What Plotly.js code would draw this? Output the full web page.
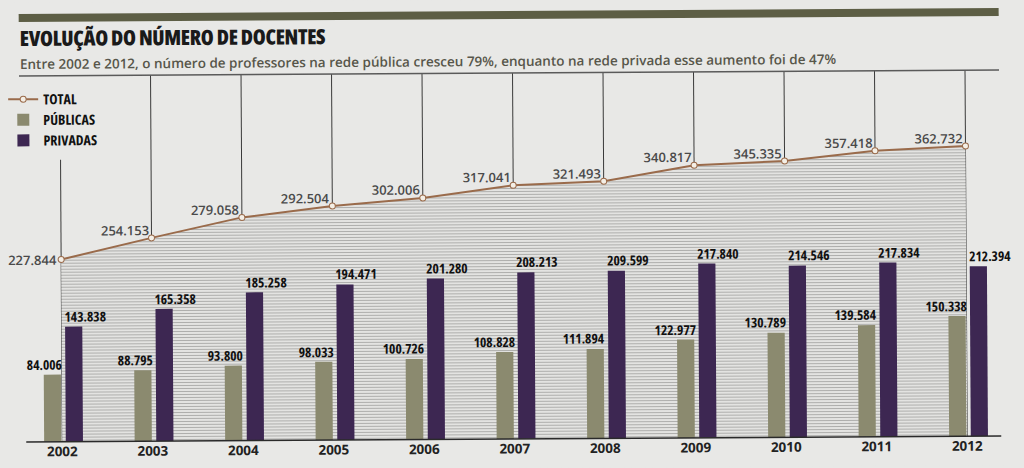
<!DOCTYPE html>
<html>
<head>
<meta charset="utf-8">
<script src="https://cdn.plot.ly/plotly-3.0.1.min.js"></script>
<style>
  html, body { margin: 0; padding: 0; background: #e8e8e6; overflow: hidden; }
  #chart { width: 1024px; height: 468px; transform: rotate(-0.35deg); transform-origin: 512px 234px; }
</style>
</head>
<body>
<div id="chart"></div>
<script>
// ---- data ----
const years = [2002, 2003, 2004, 2005, 2006, 2007, 2008, 2009, 2010, 2011, 2012];
const total = [227844, 254153, 279058, 292504, 302006, 317041, 321493, 340817, 345335, 357418, 362732];
const publicas = [84006, 88795, 93800, 98033, 100726, 108828, 111894, 122977, 130789, 139584, 150338];
const privadas = [143838, 165358, 185258, 194471, 201280, 208213, 209599, 217840, 214546, 217834, 212394];
const yearLabels = years.map(String);
const seriesNames = ['TOTAL', 'PÚBLICAS', 'PRIVADAS'];
const titleText = 'EVOLUÇÃO DO NÚMERO DE DOCENTES';
const subtitleText = 'Entre 2002 e 2012, o número de professores na rede pública cresceu 79%, enquanto na rede privada esse aumento foi de 47%';

// ---- styles ----
const C_PUB = '#8b8a6f';
const C_PRIV = '#3d2752';
const C_LINE = '#9a6b4b';
const BG = '#e8e8e6';
const SANS = '"Open Sans", "Noto Sans", sans-serif';
const cond = (t, size, weight, color, extra) =>
  '<span style="font-family:\'Open Sans\';font-size:' + size + 'px;font-weight:' + weight +
  ';font-stretch:condensed;fill:' + color + ';' + (extra || '') + '">' + t + '</span>';

const BAR_W = 0.19;
const PUB_OFF = -0.2;
const PRIV_OFF = 0.039;

const BASE = 439;      // baseline pixel
const TOP = 73;        // top rule pixel
const PH = BASE - TOP; // plot height px
const SCALE = 0.0008;  // px per unit

const fmt = v => String(v).replace(/\B(?=(\d{3})+(?!\d))/g, '.');
const py = p => (BASE - p) / PH; // pixel y -> paper y

const traces = [
  {
    type: 'scatter', x: years, y: total, xaxis: 'x', yaxis: 'y',
    mode: 'none', fill: 'tozeroy', showlegend: false, hoverinfo: 'skip',
    fillcolor: '#e2e2e0',
    fillpattern: { shape: '-', fgcolor: '#a8a8a6', bgcolor: '#e3e3e1', size: 3, solidity: 0.3 }
  },
  {
    type: 'scatter', x: years, y: total, xaxis: 'x', yaxis: 'y2',
    name: cond(seriesNames[0], 14, 700, '#111'), mode: 'lines+markers',
    line: { color: C_LINE, width: 2 },
    marker: { symbol: 'circle', size: 6, color: '#f4efe6', line: { color: C_LINE, width: 1 } }
  },
  {
    type: 'bar', x: years, y: publicas, xaxis: 'x', yaxis: 'y2',
    name: cond(seriesNames[1], 14, 700, '#111'), marker: { color: C_PUB },
    width: BAR_W, offset: PUB_OFF
  },
  {
    type: 'bar', x: years, y: privadas, xaxis: 'x', yaxis: 'y2',
    name: cond(seriesNames[2], 14, 700, '#111'), marker: { color: C_PRIV },
    width: BAR_W, offset: PRIV_OFF
  }
];

const labFont = { family: SANS, size: 13.5, color: '#111', weight: 700 };
const annotations = [];
years.forEach((yr, i) => {
  annotations.push({
    xref: 'x', yref: 'y2', x: yr, y: total[i], text: fmt(total[i]), showarrow: false,
    xanchor: 'right', yanchor: i === 0 ? 'middle' : 'bottom',
    xshift: i === 0 ? -2 : -1, yshift: i === 0 ? 0 : -3,
    font: { family: SANS, size: 13, color: '#4a4a4a', weight: 600 }
  });
  annotations.push({
    xref: 'x', yref: 'y2', x: yr + PUB_OFF + BAR_W, y: publicas[i], text: cond(fmt(publicas[i]), 13.5, 700, '#111'),
    showarrow: false, xanchor: 'right', yanchor: 'bottom', xshift: 3, yshift: -1, font: labFont
  });
  annotations.push({
    xref: 'x', yref: 'y2', x: yr + PRIV_OFF, y: privadas[i], text: cond(fmt(privadas[i]), 13.5, 700, '#111'),
    showarrow: false, xanchor: 'left', yanchor: 'bottom', xshift: -3, yshift: -1, font: labFont
  });
});

// title & subtitle
annotations.push({
  xref: 'paper', yref: 'paper', x: 20 / 1024, y: py(35.5), text: cond(titleText, 21, 800, '#1a1a1a', 'letter-spacing:-0.4px'),
  showarrow: false, xanchor: 'left', yanchor: 'middle', align: 'left', borderpad: 0,
  font: { family: SANS, size: 21, color: '#1a1a1a' }
});
annotations.push({
  xref: 'paper', yref: 'paper', x: 20 / 1024, y: py(61), text: subtitleText,
  showarrow: false, xanchor: 'left', yanchor: 'middle', align: 'left', borderpad: 0,
  font: { family: SANS, size: 13.5, color: '#57564a', weight: 600 }
});

const shapes = [
  { type: 'rect', xref: 'paper', yref: 'paper', x0: 20 / 1024, x1: 1000 / 1024, y0: py(19), y1: py(11),
    fillcolor: '#5d5e45', line: { width: 0 }, layer: 'above' },
  { type: 'line', xref: 'paper', yref: 'paper', x0: 20 / 1024, x1: 1000 / 1024, y0: 1, y1: 1,
    line: { color: '#5a5a5a', width: 1.5 } },
  { type: 'line', xref: 'paper', yref: 'paper', x0: 25 / 1024, x1: 1000 / 1024, y0: 0, y1: 0,
    line: { color: '#2a2a2a', width: 1.5 }, layer: 'above' }
];
years.forEach((yr, i) => {
  shapes.push({ type: 'line', xref: 'x', yref: 'paper', x0: yr, x1: yr, y0: 0, y1: i === 0 ? py(157) : 1,
    line: { color: '#3a3a3a', width: 1 }, layer: 'below' });
});

const yr0 = years[0];
const PXW = 90.5;
const layout = {
  width: 1024, height: 468,
  margin: { l: 0, r: 0, t: TOP, b: 468 - BASE },
  paper_bgcolor: BG, plot_bgcolor: 'rgba(0,0,0,0)',
  barmode: 'overlay',
  showlegend: true,
  legend: {
    x: 4 / 1024, y: py(81), xanchor: 'left', yanchor: 'top',
    bgcolor: 'rgba(0,0,0,0)', traceorder: 'normal', tracegroupgap: 0,
    font: { family: SANS, size: 13.5, color: '#111', weight: 700 },
    itemwidth: 30
  },
  xaxis: {
    range: [yr0 - 61 / PXW, yr0 + 963 / PXW],
    tickvals: years, ticktext: yearLabels, ticks: '', showgrid: false, zeroline: false,
    showline: false, fixedrange: true,
    tickfont: { family: SANS, size: 13.5, color: '#222', weight: 700 }
  },
  yaxis: {
    range: [0, PH / SCALE], visible: false, fixedrange: true, showgrid: false, zeroline: false
  },
  yaxis2: {
    range: [0, PH / SCALE], visible: false, overlaying: 'y', fixedrange: true, showgrid: false, zeroline: false
  },
  annotations: annotations,
  shapes: shapes
};

Plotly.newPlot('chart', traces, layout, { displayModeBar: false, staticPlot: true });
</script>
</body>
</html>
